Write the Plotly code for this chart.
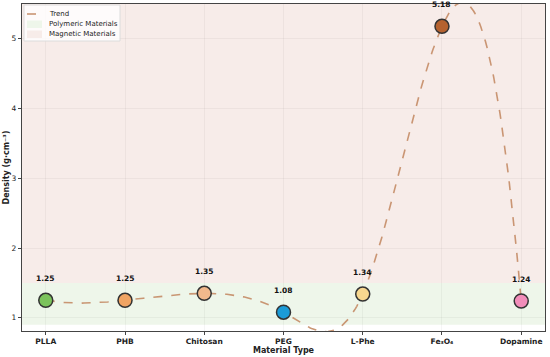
import numpy as np
import plotly.graph_objects as go

materials = ["PLLA", "PHB", "Chitosan", "PEG", "L-Phe", "Fe₃O₄", "Dopamine"]
density = [1.25, 1.25, 1.35, 1.08, 1.34, 5.18, 1.24]
colors = ["#7cc35c", "#f0a463", "#f2b98c", "#1b9bd7", "#f7d78f", "#b5622f", "#f28dba"]
poly_band = (0.9, 1.5)
mag_band = (1.5, 6.0)
legend_labels = ["Trend", "Polymeric Materials", "Magnetic Materials"]

GREEN = "#eef6ea"
RED = "#f7ece9"
TREND = "rgba(196,140,102,0.9)"

xi = np.arange(len(materials), dtype=float)
yv = np.array(density)

# not-a-knot cubic spline trend through the data
n = len(xi)
A = np.zeros((n, n)); b = np.zeros(n)
A[0, 0], A[0, 1], A[0, 2] = 1, -2, 1
A[-1, -3], A[-1, -2], A[-1, -1] = 1, -2, 1
for i in range(1, n - 1):
    A[i, i - 1], A[i, i], A[i, i + 1] = 1, 4, 1
    b[i] = 6 * (yv[i + 1] - 2 * yv[i] + yv[i - 1])
M = np.linalg.solve(A, b)
xs = np.linspace(xi[0], xi[-1], 400)
ys = []
for x in xs:
    k = min(int(np.floor(x)), n - 2)
    t = x - xi[k]
    a0 = yv[k]
    b0 = (yv[k + 1] - yv[k]) - (2 * M[k] + M[k + 1]) / 6
    c0 = M[k] / 2
    d0 = (M[k + 1] - M[k]) / 6
    ys.append(a0 + b0 * t + c0 * t * t + d0 * t ** 3)

W, H = 550, 357
L, R, T, B = 22, 5, 4, 26
PW, PH = W - L - R, H - T - B

def dx(px):
    return (px - L) / PW

def dy(py):
    return (H - B - py) / PH

fig = go.Figure()
fig.add_trace(go.Scatter(x=xs, y=ys, mode="lines", name="Trend", showlegend=False,
                         line=dict(color=TREND, width=1.6, dash="dash"), hoverinfo="skip"))
fig.add_trace(go.Scatter(x=xi, y=density, mode="markers", showlegend=False,
                         marker=dict(size=14, color=colors, line=dict(color="#333333", width=1.5))))

fig.add_shape(type="rect", xref="x domain", x0=0, x1=1, yref="y", y0=poly_band[0], y1=poly_band[1],
              fillcolor=GREEN, line=dict(width=0), layer="below")
fig.add_shape(type="rect", xref="x domain", x0=0, x1=1, yref="y", y0=mag_band[0], y1=mag_band[1],
              fillcolor=RED, line=dict(width=0), layer="below")

for x, v in zip(xi, density):
    fig.add_annotation(x=x, y=v, text=f"<b>{v:.2f}</b>", showarrow=False, yshift=22,
                       font=dict(size=7.5, color="#111"))

# compact legend (top-left, inside the axes)
fig.add_shape(type="rect", xref="x domain", yref="y domain",
              x0=dx(24), x1=dx(120), y0=dy(41), y1=dy(5),
              fillcolor="rgba(255,255,255,0.8)", line=dict(color="#dcdcdc", width=1))
fig.add_shape(type="line", xref="x domain", yref="y domain",
              x0=dx(27), x1=dx(42), y0=dy(14), y1=dy(14),
              line=dict(color=TREND, width=1.6, dash="dash"))
fig.add_shape(type="rect", xref="x domain", yref="y domain",
              x0=dx(27), x1=dx(42), y0=dy(28), y1=dy(20.5),
              fillcolor=GREEN, line=dict(width=0))
fig.add_shape(type="rect", xref="x domain", yref="y domain",
              x0=dx(27), x1=dx(42), y0=dy(38), y1=dy(30.5),
              fillcolor=RED, line=dict(width=0))
for lab, py in zip(legend_labels, [14, 24.3, 34.5]):
    fig.add_annotation(xref="x domain", yref="y domain", x=dx(47), y=dy(py), text=lab,
                       showarrow=False, xanchor="left", yanchor="middle",
                       font=dict(size=7, color="#222"))

font = "DejaVu Sans"
fig.update_layout(
    width=W, height=H,
    margin=dict(l=L, r=R, t=T, b=B),
    paper_bgcolor="white", plot_bgcolor="white",
    font=dict(family=font, size=7.5, color="#222"),
    showlegend=False,
    xaxis=dict(range=[-0.3, 6.3], tickmode="array", tickvals=list(xi),
               ticktext=[f"<b>{m}</b>" for m in materials], automargin=False,
               showline=True, linecolor="#444", linewidth=1.2, mirror=True,
               ticks="outside", ticklen=3, tickcolor="#444",
               showgrid=True, gridcolor="rgba(0,0,0,0.04)", zeroline=False,
               title=dict(text="<b>Material Type</b>", font=dict(size=8), standoff=0)),
    yaxis=dict(range=[0.81, 5.5], tickvals=[1, 2, 3, 4, 5], automargin=False,
               showline=True, linecolor="#444", linewidth=1.2, mirror=True,
               ticks="outside", ticklen=3, tickcolor="#444",
               showgrid=True, gridcolor="rgba(0,0,0,0.04)", zeroline=False,
               title=dict(text="<b>Density (g·cm⁻³)</b>", font=dict(size=8), standoff=0)),
)

fig.write_html("out.html", config={"displayModeBar": False},
               post_script="document.body.style.margin='0';document.body.style.padding='0';")
